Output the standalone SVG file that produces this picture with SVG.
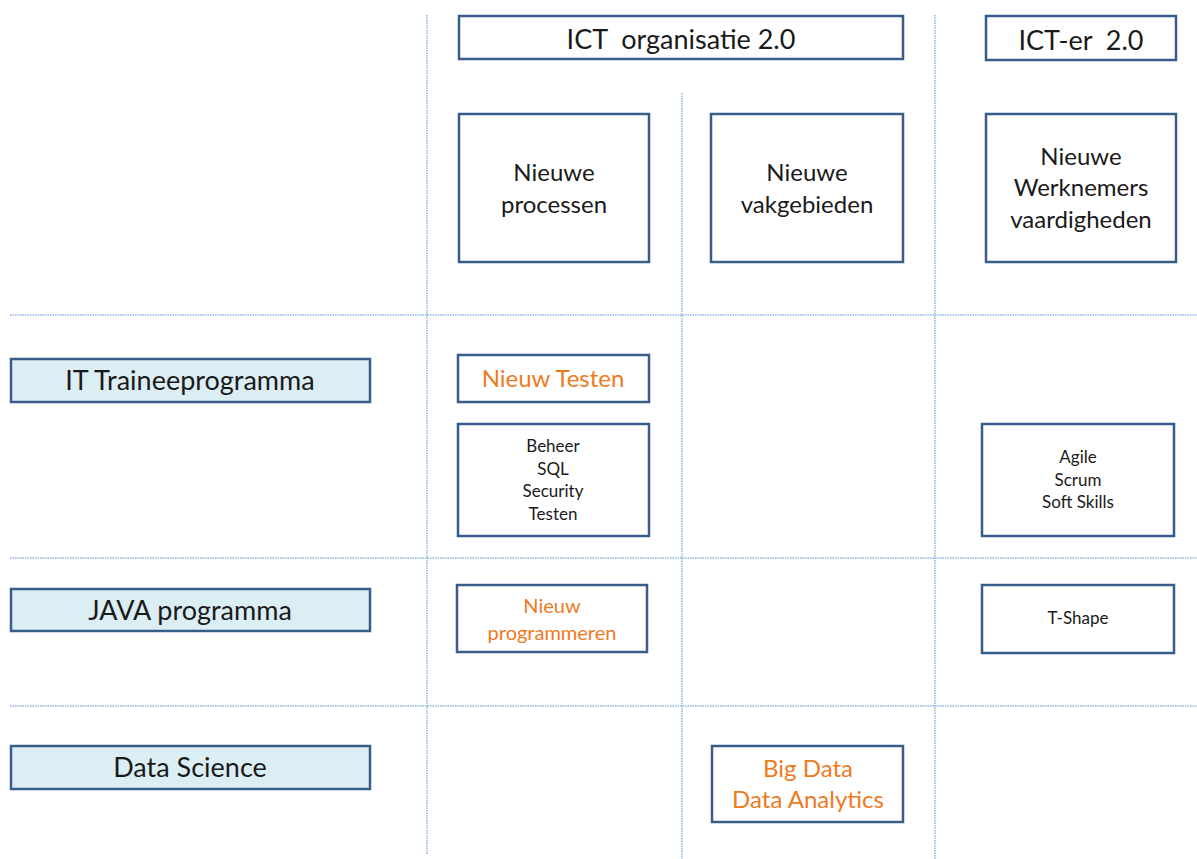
<svg xmlns="http://www.w3.org/2000/svg" width="1197" height="859" viewBox="0 0 1197 859">
<style>
.box{fill:#ffffff;stroke:#385D8A;stroke-width:2.5}
.row{fill:#DBEEF4;stroke:#385D8A;stroke-width:2.5}
.grid{stroke:#8EB4E3;stroke-width:1.5;stroke-dasharray:1.5 1;fill:none}
text{font-family:Lato,"Open Sans","Liberation Sans",sans-serif;text-anchor:middle;fill:#1a1a1a}
.h{font-size:27px}
.l{font-size:24px}
.s{font-size:17px}
.o{fill:#EE7A1E}
</style>
<rect width="1197" height="859" fill="#ffffff"/>
<g id="connectors">
<line class="grid" x1="427" y1="15" x2="427" y2="855"/>
<line class="grid" x1="682" y1="93" x2="682" y2="859"/>
<line class="grid" x1="935" y1="15" x2="935" y2="859"/>
<line class="grid" x1="10" y1="315" x2="1197" y2="315"/>
<line class="grid" x1="10" y1="558" x2="1197" y2="558"/>
<line class="grid" x1="10" y1="706" x2="1197" y2="706"/>
</g>
<g id="ict-organisatie">
<rect class="box" x="459" y="16" width="444" height="43"/>
<text class="h" x="681" y="49" xml:space="preserve">ICT  organisatie 2.0</text>
</g>
<g id="ict-er">
<rect class="box" x="986" y="16" width="190" height="44"/>
<text class="h" x="1081" y="50" xml:space="preserve">ICT-er  2.0</text>
</g>
<g id="nieuwe-processen">
<rect class="box" x="459" y="114" width="190" height="148"/>
<text class="l" x="554" y="181">Nieuwe</text>
<text class="l" x="554" y="213">processen</text>
</g>
<g id="nieuwe-vakgebieden">
<rect class="box" x="711" y="114" width="192" height="148"/>
<text class="l" x="807" y="181">Nieuwe</text>
<text class="l" x="807" y="213">vakgebieden</text>
</g>
<g id="nieuwe-werknemers">
<rect class="box" x="986" y="114" width="190" height="148"/>
<text class="l" x="1081" y="165">Nieuwe</text>
<text class="l" x="1081" y="196">Werknemers</text>
<text class="l" x="1081" y="228">vaardigheden</text>
</g>
<g id="it-traineeprogramma">
<rect class="row" x="11" y="359" width="359" height="43"/>
<text class="h" x="190" y="390">IT Traineeprogramma</text>
</g>
<g id="nieuw-testen">
<rect class="box" x="458" y="355" width="191" height="47"/>
<text class="l o" x="553" y="387">Nieuw Testen</text>
</g>
<g id="beheer">
<rect class="box" x="458" y="424" width="191" height="112"/>
<text class="s" x="553" y="452">Beheer</text>
<text class="s" x="553" y="475">SQL</text>
<text class="s" x="553" y="497">Security</text>
<text class="s" x="553" y="520">Testen</text>
</g>
<g id="agile">
<rect class="box" x="982" y="424" width="192" height="112"/>
<text class="s" x="1078" y="463">Agile</text>
<text class="s" x="1078" y="486">Scrum</text>
<text class="s" x="1078" y="508">Soft Skills</text>
</g>
<g id="java-programma">
<rect class="row" x="11" y="589" width="359" height="42"/>
<text class="h" x="190" y="620">JAVA programma</text>
</g>
<g id="nieuw-programmeren">
<rect class="box" x="457" y="585" width="190" height="67"/>
<text class="o" x="552" y="613" font-size="20">Nieuw</text>
<text class="o" x="552" y="640" font-size="20">programmeren</text>
</g>
<g id="t-shape">
<rect class="box" x="982" y="585" width="192" height="68"/>
<text class="s" x="1078" y="624">T-Shape</text>
</g>
<g id="data-science">
<rect class="row" x="11" y="746" width="359" height="43"/>
<text class="h" x="190" y="777">Data Science</text>
</g>
<g id="big-data">
<rect class="box" x="712" y="746" width="191" height="76"/>
<text class="l o" x="808" y="777">Big Data</text>
<text class="l o" x="808" y="808">Data Analytics</text>
</g>
</svg>
